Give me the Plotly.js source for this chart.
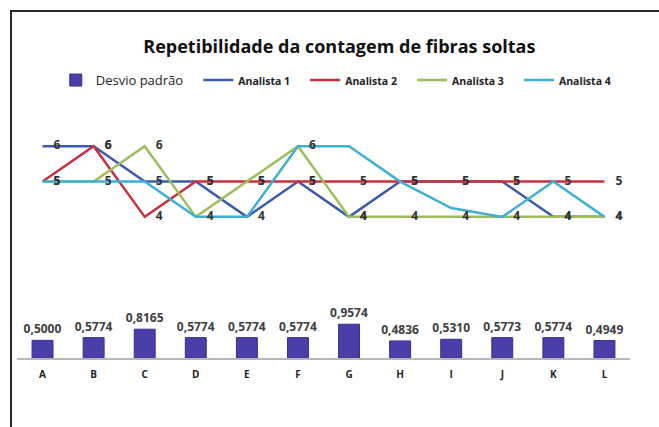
<!DOCTYPE html>
<html>
<head>
<meta charset="utf-8">
<script src="https://cdn.plot.ly/plotly-3.0.1.min.js"></script>
<style>
  html, body { margin:0; padding:0; background:#fff; }
  #frame { position:absolute; left:10px; top:10px; width:660px; height:430px;
           border-left:2px solid #2a2a2a; border-top:2px solid #2a2a2a; }
  #chart { position:absolute; left:0; top:0; width:659px; height:427px; }
</style>
</head>
<body>
<div id="frame"></div>
<div id="chart"></div>
<script>
const categories = ['A','B','C','D','E','F','G','H','I','J','K','L'];
const desvioPadrao = [0.5000, 0.5774, 0.8165, 0.5774, 0.5774, 0.5774, 0.9574, 0.4836, 0.5310, 0.5773, 0.5774, 0.4949];
const analista1 = [6, 6, 5, 5, 4, 5, 4, 5, 5, 5, 4, 4];
const analista2 = [5, 6, 4, 5, 5, 5, 5, 5, 5, 5, 5, 5];
const analista3 = [5, 5, 6, 4, 5, 6, 4, 4, 4, 4, 4, 4];
const analista4 = [5, 5, 5, 4, 4, 6, 6, 5, 4.25, 4, 5, 4];

const cBar = '#4a3fa8', c1 = '#3b5caa', c2 = '#c8303f', c3 = '#9dbd5a', c4 = '#3eb0d2';
const lblFont = {family:'Open Sans, sans-serif', size:12, color:'#333', weight:700};
const pad = '&nbsp;&nbsp;&nbsp;';

function fmt(v){ return v.toFixed(4).replace('.', ','); }
function lineTrace(name, y, color, last){
  return {type:'scatter', mode:'lines', x:categories, y:y,
          name:'<b><span style="font-size:10.5px">'+name+'</span></b>'+(last?'':pad),
          line:{color:color, width:2.5}};
}
function labelTrace(y){
  return {type:'scatter', mode:'markers+text', x:categories, y:y,
          text:y.map(String), textposition:'middle right',
          marker:{size:16, opacity:0}, textfont:lblFont,
          showlegend:false, hoverinfo:'skip'};
}

const data = [
  {type:'bar', x:categories, y:desvioPadrao, name:'Desvio padrão'+pad,
   marker:{color:cBar, line:{color:'#3a2f90', width:1}},
   text:desvioPadrao.map(fmt), textposition:'outside', cliponaxis:false,
   constraintext:'none',
   textfont:{family:'Open Sans, sans-serif', size:12, color:'#404040', weight:700}},
  lineTrace('Analista 1', analista1, c1),
  lineTrace('Analista 2', analista2, c2),
  lineTrace('Analista 3', analista3, c3),
  lineTrace('Analista 4', analista4, c4, true),
  labelTrace(analista1),
  labelTrace(analista2),
  labelTrace(analista3)
];

const layout = {
  width:659, height:427,
  margin:{l:17, r:29, t:111, b:69, autoexpand:false},
  paper_bgcolor:'rgba(0,0,0,0)', plot_bgcolor:'rgba(0,0,0,0)',
  showlegend:true,
  title:{text:'<b>Repetibilidade da contagem de fibras soltas</b>',
         font:{family:'Open Sans, sans-serif', size:18, color:'#111'},
         x:0.515, xanchor:'center', y:1-47/427, yanchor:'middle'},
  legend:{orientation:'h', x:0.52, xanchor:'center', y:1.125, yanchor:'middle',
          font:{family:'Open Sans, sans-serif', size:13, color:'#222'},
          bgcolor:'rgba(0,0,0,0)', traceorder:'normal', itemwidth:30},
  bargap:0.59,
  xaxis:{type:'category', range:[-0.5, 11.5], autorange:false,
         showgrid:false, zeroline:false,
         showline:true, linecolor:'#b8b8b8', linewidth:1.5,
         ticks:'', ticklabelstandoff:6,
         tickfont:{family:'Open Sans, sans-serif', size:10, color:'#222', weight:700}},
  yaxis:{range:[0,7], autorange:false, showgrid:false, zeroline:false, showline:false,
         showticklabels:false, ticks:''},
  font:{family:'Open Sans, sans-serif'}
};

Plotly.newPlot('chart', data, layout, {displayModeBar:false, staticPlot:true});
</script>
</body>
</html>
